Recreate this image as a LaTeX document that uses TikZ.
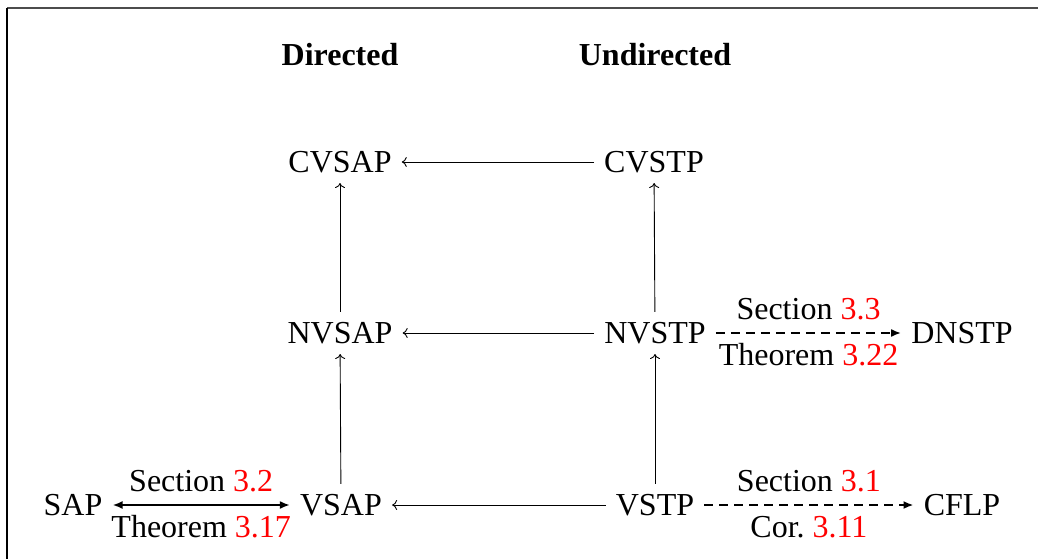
\documentclass[tikz,border=0pt]{standalone}
\usepackage{fontspec}
\setmainfont{Liberation Serif}
\usetikzlibrary{arrows.meta}
\begin{document}
\begin{tikzpicture}[x=1pt,y=-1pt,
  every node/.style={font=\fontsize{32}{38}\selectfont, inner sep=10pt},
  thinarr/.style={line width=0.9pt, -{To[length=5pt,width=10pt]}},
  biarr/.style={line width=2.1pt, {Latex[length=10pt,width=8pt]}-{Latex[length=10pt,width=8pt]}},
  dasharr/.style={line width=2.1pt, dash pattern=on 9pt off 6pt, -{Latex[length=10pt,width=8pt]}},
  lblup/.style={inner sep=0pt, yshift=24pt},
  lbldn/.style={inner sep=0pt, yshift=-22pt}]
\useasboundingbox (0,0) rectangle (1038,559);
\draw[line width=1.5pt, gray!60!black] (7,8) -- (1038,8);
\draw[line width=1.5pt] (7,8) -- (7,559);
\node[font=\fontsize{32}{38}\selectfont\bfseries] (hd) at (340,55) {Directed};
\node[font=\fontsize{32}{38}\selectfont\bfseries] (hu) at (655,55) {Undirected};
\node (cvsap) at (340,162) {CVSAP};
\node (cvstp) at (654,162) {CVSTP};
\node (nvsap) at (340,333) {NVSAP};
\node (nvstp) at (655,333) {NVSTP};
\node (dnstp) at (962,333) {DNSTP};
\node (sap) at (73,505) {SAP};
\node (vsap) at (341,505) {VSAP};
\node (vstp) at (655,505) {VSTP};
\node (cflp) at (962,505) {CFLP};
\draw[thinarr] (cvstp) -- (cvsap);
\draw[thinarr] (nvstp) -- (nvsap);
\draw[thinarr] (vstp) -- (vsap);
\draw[thinarr] (nvsap) -- (cvsap);
\draw[thinarr] (vsap) -- (nvsap);
\draw[thinarr] (nvstp) -- (cvstp);
\draw[thinarr] (vstp) -- (nvstp);
\draw[biarr] (sap) -- node[lblup] (l1) {Section \textcolor{red}{3.2}} node[lbldn] (l2) {Theorem \textcolor{red}{3.17}} (vsap);
\draw[dasharr] (nvstp) -- node[lblup] (l3) {Section \textcolor{red}{3.3}} node[lbldn] (l4) {Theorem \textcolor{red}{3.22}} (dnstp);
\draw[dasharr] (vstp) -- node[lblup] (l5) {Section \textcolor{red}{3.1}} node[lbldn] (l6) {Cor.\ \textcolor{red}{3.11}} (cflp);
\end{tikzpicture}
\end{document}
